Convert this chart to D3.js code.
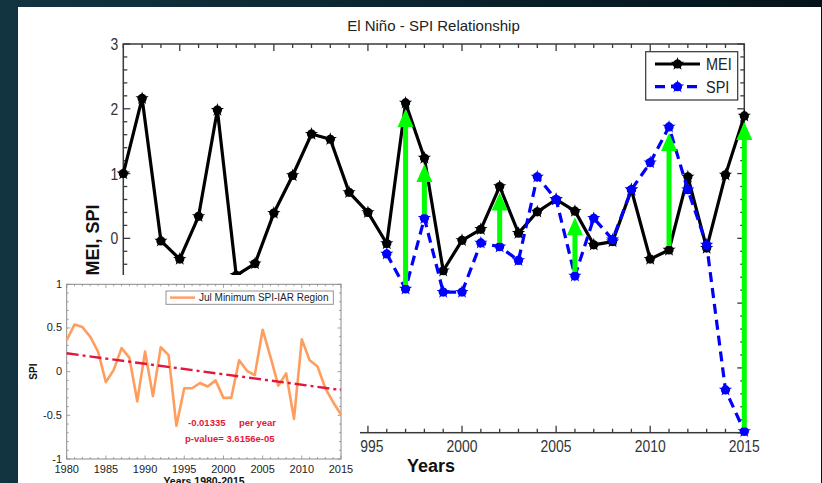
<!DOCTYPE html>
<html><head><meta charset="utf-8">
<script src="https://cdn.jsdelivr.net/npm/d3@7/dist/d3.min.js"></script>
<style>
html,body{margin:0;padding:0;}
body{width:822px;height:483px;overflow:hidden;background:linear-gradient(to right,#113440 0%,#0b2630 45%,#051319 100%);}
svg{display:block;}
</style></head>
<body>
<svg id="c" width="822" height="483"></svg>
<script>
// ---------- data ----------
const years = d3.range(1982, 2016);
const mei = [1.00, 2.16, -0.04, -0.32, 0.34, 1.98, -0.57, -0.39, 0.39, 0.97, 1.61, 1.53, 0.71, 0.40, -0.08, 2.09, 1.24, -0.50,
  -0.03, 0.14, 0.80, 0.08, 0.41, 0.60, 0.42, -0.10, -0.05, 0.75, -0.32, -0.18, 0.95, -0.15, 0.98, 1.89];
const spiYears = d3.range(1996, 2016);
const spi = [-0.24, -0.78, 0.31, -0.83, -0.83, -0.07, -0.13, -0.34, 0.95, 0.60, -0.58, 0.31, -0.02, 0.75, 1.17, 1.72, 0.75, -0.10, -2.34, -2.98];
const arrowYears = [1997, 1998, 2002, 2006, 2011, 2015];
const xTickLabels = [1985, 1990, 1995, 2000, 2005, 2010, 2015];
const yTickLabels = [-3, -2, -1, 0, 1, 2, 3];

const insetYears = d3.range(1980, 2016);
const insetSpi = [0.36, 0.54, 0.51, 0.40, 0.23, -0.12, 0.02, 0.27, 0.16, -0.34, 0.23, -0.28, 0.28, 0.19, -0.62, -0.19, -0.19, -0.13,
  -0.17, -0.10, -0.30, -0.30, 0.13, 0.01, -0.04, 0.48, 0.17, -0.16, -0.02, -0.54, 0.37, 0.13, 0.06, -0.19, -0.35, -0.49];
const trendYears = [1980, 2015];
const trendVals = [0.21, -0.21];
const insetXTicks = [1980, 1985, 1990, 1995, 2000, 2005, 2010, 2015];
const insetYTicks = [-1, -0.5, 0, 0.5, 1];

const svg = d3.select("#c");
const SANS = "'Liberation Sans',Arial,sans-serif";

// narrow text helper: horizontal compression of Liberation Sans
function ntext(sel, tx, ty, str, size, anchor, fill, sx) {
  return sel.append("text").attr("transform", `translate(${tx},${ty}) scale(${sx || 0.82},1)`)
    .attr("text-anchor", anchor).attr("font-family", SANS).attr("font-size", size).attr("fill", fill).text(str);
}

// white panel
svg.append("rect").attr("x", 18).attr("y", 7).attr("width", 803).attr("height", 480).attr("fill", "#fff");

// ---------- main chart ----------
const x = d3.scaleLinear().domain([1982, 2015]).range([123.3, 744.3]);
const y = d3.scaleLinear().domain([-3, 3]).range([432.7, 44]);
const axisColor = "#3a3a3a";

const g = svg.append("g");
const gx = g.append("g").attr("stroke", axisColor).attr("stroke-width", 1.3);
d3.range(1982, 2016).forEach(t => {
  const len = t % 5 === 0 ? 7 : 4;
  gx.append("line").attr("x1", x(t)).attr("x2", x(t)).attr("y1", y(-3)).attr("y2", y(-3) - len);
  gx.append("line").attr("x1", x(t)).attr("x2", x(t)).attr("y1", y(3)).attr("y2", y(3) + len);
});
d3.range(-15, 16).map(v => v / 5).forEach(t => {
  const len = Math.abs(t - Math.round(t)) < 1e-9 ? 7 : 4;
  gx.append("line").attr("x1", x(1982)).attr("x2", x(1982) + len).attr("y1", y(t)).attr("y2", y(t));
  gx.append("line").attr("x1", x(2015)).attr("x2", x(2015) - len).attr("y1", y(t)).attr("y2", y(t));
});
g.append("rect").attr("x", x(1982)).attr("y", y(3)).attr("width", x(2015) - x(1982)).attr("height", y(-3) - y(3))
  .attr("fill", "none").attr("stroke", axisColor).attr("stroke-width", 1.5);

// tick labels
const xl = g.append("g");
xTickLabels.forEach(d => ntext(xl, x(d), y(-3) + 19, d, 17, "middle", "#333"));
const yl = g.append("g");
yTickLabels.forEach(d => ntext(yl, x(1982) - 5, y(d) + 6, d, 17, "end", "#333"));

// title & axis labels
svg.append("text").attr("x", 433.5).attr("y", 31).attr("text-anchor", "middle")
  .attr("font-family", SANS).attr("font-size", 15).attr("fill", "#222").text("El Niño - SPI Relationship");
svg.append("text").attr("x", 431).attr("y", 472).attr("text-anchor", "middle")
  .attr("font-family", SANS).attr("font-weight", "bold").attr("font-size", 18).attr("fill", "#111").text("Years");
svg.append("text").attr("transform", "translate(99,240) rotate(-90)").attr("text-anchor", "middle")
  .attr("font-family", SANS).attr("font-weight", "bold").attr("font-size", 18).attr("fill", "#111").text("MEI, SPI");

// lines
const line = d3.line().x(d => x(d[0])).y(d => y(d[1]));
const meiPts = years.map((yr, i) => [yr, mei[i]]);
const spiPts = spiYears.map((yr, i) => [yr, spi[i]]);

const star = d3.symbol().type(d3.symbolStar).size(55);
function marker(sel, cx, cy, color) {
  sel.append("circle").attr("cx", cx).attr("cy", cy).attr("r", 4.6).attr("fill", color);
  sel.append("path").attr("d", star()).attr("transform", `translate(${cx},${cy})`).attr("fill", color);
}
g.append("path").datum(meiPts).attr("d", line).attr("fill", "none").attr("stroke", "#000").attr("stroke-width", 3.2)
  .attr("stroke-linejoin", "round");
const mg = g.append("g");
meiPts.forEach(p => marker(mg, x(p[0]), y(p[1]), "#000"));
g.append("path").datum(spiPts).attr("d", line).attr("fill", "none").attr("stroke", "#0000ff").attr("stroke-width", 3.2)
  .attr("stroke-dasharray", "10,6");
const sg = g.append("g");
spiPts.forEach(p => marker(sg, x(p[0]), y(p[1]), "#0000ff"));

// green arrows
const ag = g.append("g");
arrowYears.forEach(yr => {
  const m = mei[years.indexOf(yr)], s = spi[spiYears.indexOf(yr)];
  const lo = Math.min(m, s), hi = Math.max(m, s);
  const xb = x(yr), yb = y(lo) - 4, yt = y(hi) + 6;
  ag.append("line").attr("x1", xb).attr("x2", xb).attr("y1", yb).attr("y2", yt + 12)
    .attr("stroke", "#00ff00").attr("stroke-width", 5);
  ag.append("path").attr("d", `M${xb},${yt} L${xb - 8},${yt + 18} L${xb + 8},${yt + 18} Z`).attr("fill", "#00ff00");
});

// legend
const lg = svg.append("g");
lg.append("rect").attr("x", 645.7).attr("y", 51.7).attr("width", 92).attr("height", 48.3)
  .attr("fill", "#fff").attr("stroke", "#333").attr("stroke-width", 1.2);
[["MEI", "#000", null, 64], ["SPI", "#0000ff", "10,6", 86.7]].forEach(([lab, col, dash, ly]) => {
  lg.append("line").attr("x1", 655).attr("x2", 700).attr("y1", ly).attr("y2", ly).attr("stroke", col)
    .attr("stroke-width", 3.2).attr("stroke-dasharray", dash);
  marker(lg, 677.5, ly, col);
  ntext(lg, 706, ly + 6, lab, 17, "start", "#222", 0.85);
});

// ---------- inset ----------
const ig = svg.append("g");
ig.append("rect").attr("x", 18).attr("y", 275).attr("width", 342).attr("height", 210).attr("fill", "#fff");
const ix = d3.scaleLinear().domain([1980, 2015]).range([66.7, 341]);
const iy = d3.scaleLinear().domain([-1, 1]).range([459, 284.3]);
const iAxis = "#8a8a8a";
const itg = ig.append("g").attr("stroke", iAxis).attr("stroke-width", 0.8);
d3.range(1980, 2016).forEach(t => {
  const len = t % 5 === 0 ? 3.5 : 2;
  itg.append("line").attr("x1", ix(t)).attr("x2", ix(t)).attr("y1", iy(-1)).attr("y2", iy(-1) - len);
  itg.append("line").attr("x1", ix(t)).attr("x2", ix(t)).attr("y1", iy(1)).attr("y2", iy(1) + len);
});
d3.range(-10, 11).map(v => v / 10).forEach(t => {
  const len = Math.abs(t * 2 - Math.round(t * 2)) < 1e-9 ? 3.5 : 2;
  itg.append("line").attr("x1", ix(1980)).attr("x2", ix(1980) + len).attr("y1", iy(t)).attr("y2", iy(t));
  itg.append("line").attr("x1", ix(2015)).attr("x2", ix(2015) - len).attr("y1", iy(t)).attr("y2", iy(t));
});
ig.append("rect").attr("x", ix(1980)).attr("y", iy(1)).attr("width", ix(2015) - ix(1980)).attr("height", iy(-1) - iy(1))
  .attr("fill", "none").attr("stroke", iAxis).attr("stroke-width", 1);

ig.append("g").selectAll("text").data(insetXTicks).join("text")
  .attr("x", d => ix(d)).attr("y", 473).attr("text-anchor", "middle")
  .attr("font-family", SANS).attr("font-size", 11).attr("fill", "#222").text(d => d);
ig.append("g").selectAll("text").data(insetYTicks).join("text")
  .attr("x", 62).attr("y", d => iy(d) + 3.5).attr("text-anchor", "end")
  .attr("font-family", SANS).attr("font-size", 11).attr("fill", "#222").text(d => d);
ig.append("text").attr("x", 204).attr("y", 484.5).attr("text-anchor", "middle")
  .attr("font-family", SANS).attr("font-weight", "bold").attr("font-size", 10.5).attr("fill", "#111").text("Years 1980-2015");
ig.append("text").attr("transform", "translate(37,371.6) rotate(-90)").attr("text-anchor", "middle")
  .attr("font-family", SANS).attr("font-weight", "bold").attr("font-size", 10).attr("fill", "#111").text("SPI");

const iline = d3.line().x(d => ix(d[0])).y(d => iy(d[1]));
ig.append("path").datum(insetYears.map((yr, i) => [yr, insetSpi[i]])).attr("d", iline)
  .attr("fill", "none").attr("stroke", "#ff9d5e").attr("stroke-width", 2.6).attr("stroke-linejoin", "round");
ig.append("path").datum(trendYears.map((yr, i) => [yr, trendVals[i]])).attr("d", iline)
  .attr("fill", "none").attr("stroke", "#e3173b").attr("stroke-width", 2.4).attr("stroke-dasharray", "12,4,3,4");

ig.append("text").attr("x", 188).attr("y", 425.5).attr("font-family", SANS).attr("font-weight", "bold")
  .attr("font-size", 9.5).attr("fill", "#e3173b").text("-0.01335");
ig.append("text").attr("x", 239).attr("y", 425.5).attr("font-family", SANS).attr("font-weight", "bold")
  .attr("font-size", 9.5).attr("fill", "#e3173b").text("per year");
ig.append("text").attr("x", 185).attr("y", 442).attr("font-family", SANS).attr("font-weight", "bold")
  .attr("font-size", 9.5).attr("fill", "#e3173b").text("p-value= 3.6156e-05");

// inset legend
ig.append("rect").attr("x", 166).attr("y", 291).attr("width", 167.3).attr("height", 13.3)
  .attr("fill", "#fff").attr("stroke", "#888").attr("stroke-width", 0.9);
ig.append("line").attr("x1", 170).attr("x2", 195).attr("y1", 297.6).attr("y2", 297.6).attr("stroke", "#ff9d5e").attr("stroke-width", 2.4);
ig.append("text").attr("x", 199).attr("y", 301.3).attr("font-family", SANS).attr("font-size", 10).attr("fill", "#222")
  .text("Jul Minimum SPI-IAR Region");
</script>
</body></html>
